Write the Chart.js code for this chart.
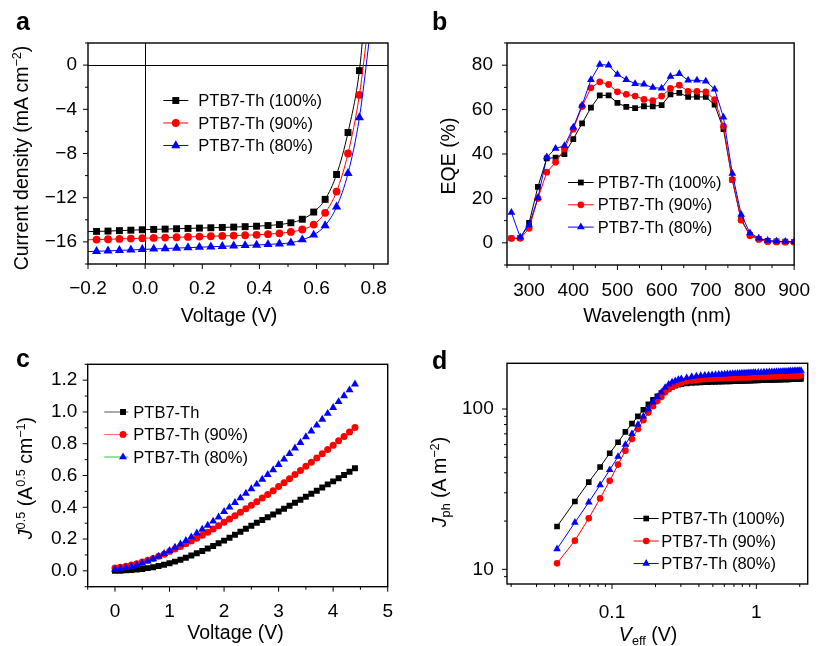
<!DOCTYPE html>
<html><head><meta charset="utf-8">
<script src="https://cdn.jsdelivr.net/npm/chart.js@4.4.1/dist/chart.umd.min.js"></script>
<style>
html,body{margin:0;padding:0;background:#fff;}
#wrap{position:relative;width:824px;height:646px;overflow:hidden;font-family:"Liberation Sans",Arial,Helvetica,sans-serif;color:#000;background:#fff;}
canvas{position:absolute;}
.lbl{position:absolute;font-weight:bold;font-size:25px;line-height:25px;z-index:2;}
.t{position:absolute;font-size:19.5px;white-space:nowrap;line-height:1;transform:translate(-50%,-50%);z-index:2;}
.r{transform:translate(-50%,-50%) rotate(-90deg);}
sup{font-size:0.65em;vertical-align:0.55em;line-height:0;}
sub{font-size:0.65em;vertical-align:-0.3em;line-height:0;}
</style></head>
<body><div id="wrap">
<canvas id="ca" width="412" height="323" style="left:0;top:0"></canvas>
<canvas id="cb" width="412" height="323" style="left:412px;top:0"></canvas>
<canvas id="cc" width="412" height="323" style="left:0;top:323px"></canvas>
<canvas id="cd" width="412" height="323" style="left:412px;top:323px"></canvas>
<div class="lbl" style="left:16px;top:9px">a</div>
<div class="lbl" style="left:432px;top:9px">b</div>
<div class="lbl" style="left:16px;top:346px">c</div>
<div class="lbl" style="left:432px;top:348px">d</div>
<div class="t" style="left:229px;top:315.5px">Voltage (V)</div>
<div class="t r" style="left:22px;top:158px">Current density (mA cm<sup>−2</sup>)</div>
<div class="t" style="left:657px;top:316px">Wavelength (nm)</div>
<div class="t r" style="left:449px;top:156px">EQE (%)</div>
<div class="t" style="left:235.5px;top:633px">Voltage (V)</div>
<div class="t r" style="left:26px;top:478px"><i>J</i><sup>0.5</sup> (A<sup>0.5</sup> cm<sup>−1</sup>)</div>
<div class="t" style="left:648px;top:635px"><i>V</i><sub>eff</sub> (V)</div>
<div class="t r" style="left:440px;top:482px"><i>J</i><sub>ph</sub> (A m<sup>−2</sup>)</div>
</div>
<script>
const FONT = '"Liberation Sans", Arial, Helvetica, sans-serif';
const BLK = '#000000', RED = '#ff0000', BLU = '#0000ff';

const seriesNames = ['PTB7-Th (100%)', 'PTB7-Th (90%)', 'PTB7-Th (80%)'];
const sclcNames = ['PTB7-Th', 'PTB7-Th (90%)', 'PTB7-Th (80%)'];

// ---- a: J-V ----
const jvV = [-0.17,-0.13,-0.09,-0.05,-0.01,0.03,0.07,0.11,0.15,0.19,0.23,0.27,0.31,0.35,0.39,0.43,0.47,0.51,0.55,0.59,0.63,0.67,0.71,0.75];
const jv100 = [-15.05,-15.02,-14.98,-14.94,-14.9,-14.87,-14.84,-14.81,-14.78,-14.75,-14.72,-14.69,-14.66,-14.62,-14.58,-14.52,-14.43,-14.27,-13.95,-13.3,-12.15,-9.9,-6.1,-0.5];
const jv90 = [-15.79,-15.76,-15.73,-15.7,-15.67,-15.64,-15.61,-15.58,-15.55,-15.52,-15.49,-15.46,-15.43,-15.4,-15.36,-15.3,-15.22,-15.1,-14.88,-14.43,-13.37,-11.45,-8.0,-2.7];
const jv80 = [-16.85,-16.81,-16.77,-16.73,-16.68,-16.64,-16.6,-16.56,-16.52,-16.48,-16.44,-16.4,-16.36,-16.32,-16.28,-16.23,-16.17,-16.08,-15.8,-15.37,-14.52,-12.83,-9.8,-4.75];
const jvHeadV = -0.2;
const jvHead = [-15.07, -15.81, -16.88];
const jvTailV = [0.765, 0.78, 0.79];
const jvTail = [3.5, 3.5, 3.5];
const jvXTicks = [-0.2, 0, 0.2, 0.4, 0.6, 0.8];
const jvXMinor = [-0.1, 0.1, 0.3, 0.5, 0.7];
const jvYTicks = [-16, -12, -8, -4, 0];
const jvYMinor = [-18, -14, -10, -6, -2, 2];

// ---- b: EQE ----
const wl = [260,280,300,320,340,360,380,400,420,440,460,480,500,520,540,560,580,600,620,640,660,680,700,720,740,760,780,800,820,840,860,880,900];
const eqe100 = [2,2.2,9,25.2,38,38.4,40,46.7,53.8,60.9,66.4,66.4,63,61.2,60.7,61.5,61.5,62,66.9,67.5,65.7,65.7,65.7,62.2,51.2,28.3,10.5,3.5,1.8,0.9,0.6,0.5,0.4];
const eqe90 = [2,2,6.5,20,31.8,36.3,42.2,51.2,61.4,69.8,72.5,71.3,68,66.9,66.1,64.6,64,66.1,69.5,71,68.2,68.2,68,64.5,52.5,28.5,10.2,3.2,1.5,0.5,0.4,0.3,0.3];
const eqe80 = [13.6,2.5,8,20.3,38.6,42.5,43.7,52,62,73.4,80.3,80,75.8,73.5,71.7,71.4,69.9,69.6,74.9,76.1,73.2,73.2,72.8,69.2,56.5,31.2,12.8,4.4,2.1,1,0.7,0.6,0.5];
const eqeXTicks = [300,400,500,600,700,800,900];
const eqeXMinor = [250,350,450,550,650,750,850];
const eqeYTicks = [0,20,40,60,80];
const eqeYMinor = [-10,10,30,50,70,90];

// ---- c: SCLC ----
const sclcV = [0,0.1,0.2,0.3,0.4,0.5,0.6,0.7,0.8,0.9,1.0,1.1,1.2,1.3,1.4,1.5,1.6,1.7,1.8,1.9,2.0,2.1,2.2,2.3,2.4,2.5,2.6,2.7,2.8,2.9,3.0,3.1,3.2,3.3,3.4,3.5,3.6,3.7,3.8,3.9,4.0,4.1,4.2,4.3,4.4];
const sclc100 = [0,0.001,0.003,0.005,0.008,0.012,0.017,0.023,0.03,0.038,0.048,0.058,0.07,0.082,0.096,0.11,0.125,0.14,0.156,0.173,0.19,0.208,0.227,0.246,0.265,0.284,0.302,0.32,0.337,0.355,0.373,0.391,0.409,0.428,0.447,0.466,0.485,0.504,0.524,0.544,0.563,0.583,0.603,0.624,0.646];
const sclc90 = [0.018,0.023,0.029,0.036,0.045,0.055,0.066,0.078,0.091,0.105,0.122,0.137,0.153,0.17,0.187,0.205,0.224,0.243,0.263,0.284,0.305,0.326,0.347,0.369,0.391,0.413,0.435,0.458,0.481,0.504,0.53,0.555,0.58,0.606,0.632,0.658,0.684,0.71,0.737,0.764,0.791,0.818,0.846,0.874,0.902];
const sclc80 = [0.008,0.013,0.019,0.027,0.036,0.047,0.06,0.074,0.09,0.108,0.127,0.147,0.168,0.19,0.213,0.237,0.261,0.286,0.312,0.338,0.372,0.4,0.429,0.458,0.487,0.516,0.545,0.575,0.605,0.635,0.668,0.702,0.737,0.772,0.807,0.843,0.879,0.916,0.953,0.99,1.027,1.064,1.101,1.138,1.175];
const sclcXTicks = [0,1,2,3,4,5];
const sclcXMinor = [-0.5,0.5,1.5,2.5,3.5,4.5];
const sclcYTicks = [0,0.2,0.4,0.6,0.8,1.0,1.2];
const sclcYMinor = [-0.1,0.1,0.3,0.5,0.7,0.9,1.1,1.3];

// ---- d: Jph vs Veff ----
const veff = [0.0416,0.0553,0.069,0.0827,0.0964,0.1101,0.1238,0.1375,0.1512,0.1649,0.1786,0.1923,0.206,0.2197,0.2334,0.2471,0.2608,0.2745,0.2882,0.3019,
0.3293,0.3567,0.3841,0.4115,0.4389,0.4663,0.4937,0.5211,0.5485,0.5759,0.6033,0.6307,0.6581,0.6855,0.7129,0.7403,0.7677,0.7951,0.8225,0.8499,0.8773,0.9047,0.9321,0.9595,0.9869,
1.03,1.08,1.13,1.18,1.23,1.28,1.33,1.38,1.43,1.48,1.53,1.58,1.63,1.68,1.73,1.78,1.83,1.88,1.93,1.98,2.04];
const jph100 = [18.5,26.5,35,43.5,53,62,72,81,90,99,107,114,120,125.5,130.5,134.5,137.5,140,141.8,143,
144.5,145.3,146,146.5,146.9,147.2,147.5,147.8,148,148.2,148.4,148.6,148.8,149,149.2,149.4,149.5,149.7,149.9,150,150.2,150.3,150.5,150.6,150.8,
151,151.2,151.4,151.6,151.8,152,152.1,152.3,152.4,152.6,152.7,152.9,153,153.2,153.3,153.5,153.6,153.8,153.9,154.1,154.3];
const jph90 = [10.9,15.1,20.8,27.7,35.7,45,55,65,75,85,95,104,112,119,127,133,137.5,141,143.5,145.5,
148.3,150.3,151.8,152.8,153.5,154,154.4,154.8,155.1,155.4,155.7,156,156.2,156.4,156.6,156.8,157,157.2,157.4,157.5,157.7,157.8,158,158.1,158.3,
158.5,158.7,158.9,159.1,159.3,159.5,159.7,159.8,160,160.2,160.3,160.5,160.6,160.8,160.9,161.1,161.2,161.4,161.5,161.7,161.9];
const jph80 = [13.4,19.6,26.2,33.6,41.7,50.5,60,70,80,90,100,110,119,127,136,142.5,147,150,152.5,154.3,
156.5,159,160.3,161.2,162,162.6,163.2,163.7,164.1,164.5,164.9,165.3,165.6,165.9,166.2,166.5,166.8,167.1,167.4,167.6,167.8,168,168.2,168.4,168.6,
168.9,169.2,169.5,169.8,170.1,170.4,170.6,170.8,171,171.3,171.5,171.7,171.9,172.1,172.3,172.5,172.7,172.9,173.1,173.3,173.6];
const dXTicks = [0.1, 1];
const dXMinor = [0.02,0.03,0.04,0.05,0.06,0.07,0.08,0.09,0.2,0.3,0.4,0.5,0.6,0.7,0.8,0.9,2];
const dYTicks = [10, 100];
const dYMinor = [9,20,30,40,50,60,70,80,90];

// ---------- helpers ----------
Chart.defaults.font.family = FONT;
const minus = s => s.replace('-', '\u2212');
const fmt = d => v => minus(Number(v).toFixed(d));

function axis(type, min, max, tickVals, format, pad, fit, isX) {
  return {
    type, min, max,
    grid: { display: false, drawTicks: false },
    border: { display: false },
    ticks: { padding: pad, font: { family: FONT, size: 19 }, color: '#000', maxRotation: 0, autoSkip: false,
             callback: (v) => format(v) },
    afterBuildTicks: s => { s.ticks = tickVals.map(v => ({ value: v })); },
    afterFit: s => { if (isX) s.height = fit; else s.width = fit; }
  };
}

const framePlugin = {
  id: 'frame',
  beforeDatasetsDraw(chart, args, o) {
    if (!o.zeroLines) return;
    const { ctx, chartArea: a, scales: { x, y } } = chart;
    ctx.save(); ctx.strokeStyle = '#000'; ctx.lineWidth = 1;
    const py = Math.round(y.getPixelForValue(0)) + 0.5, px = Math.round(x.getPixelForValue(0)) + 0.5;
    ctx.beginPath(); ctx.moveTo(a.left, py); ctx.lineTo(a.right, py);
    ctx.moveTo(px, a.top); ctx.lineTo(px, a.bottom); ctx.stroke(); ctx.restore();
  },
  afterDatasetsDraw(chart, args, o) {
    const { ctx, chartArea: a, scales: { x, y } } = chart;
    ctx.save(); ctx.strokeStyle = '#000'; ctx.lineWidth = 1;
    ctx.beginPath();
    const tx = (vals, len) => (vals || []).forEach(v => { const p = x.getPixelForValue(v); ctx.moveTo(p, a.bottom); ctx.lineTo(p, a.bottom + len); });
    const ty = (vals, len) => (vals || []).forEach(v => { const p = y.getPixelForValue(v); ctx.moveTo(a.left, p); ctx.lineTo(a.left - len, p); });
    tx(o.xMajor, 5); tx(o.xMinor, 3); ty(o.yMajor, 5); ty(o.yMinor, 3);
    ctx.stroke();
    ctx.lineWidth = 1.4;
    ctx.strokeRect(a.left, a.top, a.right - a.left, a.bottom - a.top);
    ctx.restore();
  }
};

const legendPlugin = {
  id: 'inlegend',
  afterDraw(chart, args, o) {
    if (!o.items) return;
    const ctx = chart.ctx;
    ctx.save();
    o.items.forEach((it, i) => {
      const yy = o.y + i * o.dy;
      const ds = chart.data.datasets[it.ds];
      ctx.strokeStyle = it.line; ctx.lineWidth = 1;
      ctx.beginPath(); ctx.moveTo(o.x0, yy); ctx.lineTo(o.x1, yy); ctx.stroke();
      const mx = o.x0 + (o.x1 - o.x0) * (o.mf || 0.5);
      ctx.fillStyle = ds.pointBackgroundColor; ctx.strokeStyle = ds.pointBackgroundColor;
      Chart.helpers.drawPoint(ctx, { pointStyle: ds.pointStyle, radius: ds.pointRadiusBase, borderWidth: 0, rotation: 0 }, mx, yy);
      ctx.fillStyle = '#000';
      ctx.font = '16.5px ' + FONT; ctx.textBaseline = 'middle'; ctx.textAlign = 'left';
      ctx.fillText(ds.label, o.tx, yy + 1);
    });
    ctx.restore();
  }
};

function mkds(label, data, color, style, r, extra) {
  return Object.assign({
    label, data, borderColor: color, backgroundColor: color,
    pointBackgroundColor: color, pointBorderColor: color, pointBorderWidth: 0,
    pointStyle: style, pointRadius: r, pointHoverRadius: r, pointRadiusBase: r,
    borderWidth: 1, showLine: true, tension: 0
  }, extra || {});
}

function baseOpts(pad, xAxis, yAxis, frame, legend) {
  return {
    responsive: false, animation: false, events: [],
    layout: { padding: pad },
    scales: { x: xAxis, y: yAxis },
    plugins: { legend: { display: false }, tooltip: { enabled: false }, frame, inlegend: legend }
  };
}

const colors = [BLK, RED, BLU];
const styles = ['rect', 'circle', 'triangle'];

// ---------- a ----------
(function () {
  const sets = [jv100, jv90, jv80];
  const radii = [4.9, 3.9, 5.3];
  const datasets = sets.map((ys, i) => {
    const pts = [{ x: jvHeadV, y: jvHead[i] }].concat(jvV.map((v, k) => ({ x: v, y: ys[k] })), [{ x: jvTailV[i], y: jvTail[i] }]);
    const n = pts.length;
    return mkds(seriesNames[i], pts, colors[i], styles[i], radii[i], {
      pointRadius: c => (c.dataIndex === 0 || c.dataIndex === n - 1) ? 0 : radii[i],
      cubicInterpolationMode: 'monotone', clip: 0, order: 2 - i
    });
  });
  new Chart(document.getElementById('ca'), {
    type: 'scatter',
    data: { datasets },
    options: baseOpts({ left: 0, top: 43, right: 24, bottom: 0 },
      axis('linear', -0.2, 0.85, jvXTicks, fmt(1), 13, 59, true),
      axis('linear', -18, 2, jvYTicks, fmt(0), 11, 88, false),
      { xMajor: jvXTicks, xMinor: jvXMinor, yMajor: jvYTicks, yMinor: jvYMinor, zeroLines: true },
      { x0: 163.3, x1: 188.3, tx: 198.3, y: 100.5, dy: 22.5, items: [{ ds: 0, line: BLK }, { ds: 1, line: RED }, { ds: 2, line: BLU }] }),
    plugins: [framePlugin, legendPlugin]
  });
})();

// ---------- b ----------
(function () {
  const sets = [eqe100, eqe90, eqe80];
  const radii = [4.1, 3.4, 4.5];
  const datasets = sets.map((ys, i) => mkds(seriesNames[i], wl.map((v, k) => ({ x: v, y: ys[k] })), colors[i], styles[i], radii[i], { order: 2 - i }));
  new Chart(document.getElementById('cb'), {
    type: 'scatter',
    data: { datasets },
    options: baseOpts({ left: 0, top: 43, right: 16, bottom: 0 },
      axis('linear', 250, 900, eqeXTicks, fmt(0), 14, 58, true),
      axis('linear', -10, 90, eqeYTicks, fmt(0), 14, 95, false),
      { xMajor: eqeXTicks, xMinor: eqeXMinor, yMajor: eqeYTicks, yMinor: eqeYMinor },
      { x0: 156, x1: 181.7, tx: 185.7, y: 182.5, dy: 22.3, items: [{ ds: 0, line: BLK }, { ds: 1, line: RED }, { ds: 2, line: BLU }] }),
    plugins: [framePlugin, legendPlugin]
  });
})();

// ---------- c ----------
(function () {
  const sets = [sclc100, sclc90, sclc80];
  const radii = [4.2, 3.5, 4.6];
  const datasets = sets.map((ys, i) => mkds(sclcNames[i], sclcV.map((v, k) => ({ x: v, y: ys[k] })), colors[i], styles[i], radii[i], { showLine: false, order: 2 - i }));
  new Chart(document.getElementById('cc'), {
    type: 'scatter',
    data: { datasets },
    options: baseOpts({ left: 0, top: 41.3, right: 24.3, bottom: 0 },
      axis('linear', -0.5, 5, sclcXTicks, fmt(0), 14, 59.3, true),
      axis('linear', -0.1, 1.3, sclcYTicks, fmt(1), 10.4, 87.7, false),
      { xMajor: sclcXTicks, xMinor: sclcXMinor, yMajor: sclcYTicks, yMinor: sclcYMinor },
      { x0: 104.3, x1: 128.3, tx: 133.3, y: 89, dy: 22.5, mf: 0.78, items: [{ ds: 0, line: '#555555' }, { ds: 1, line: '#ff6666' }, { ds: 2, line: '#22cc22' }] }),
    plugins: [framePlugin, legendPlugin]
  });
})();

// ---------- d ----------
(function () {
  const sets = [jph100, jph90, jph80];
  const radii = [4.0, 3.3, 4.4];
  const datasets = sets.map((ys, i) => mkds(seriesNames[i], veff.map((v, k) => ({ x: v, y: ys[k] })), colors[i], styles[i], radii[i], { order: 2 - i }));
  new Chart(document.getElementById('cd'), {
    type: 'scatter',
    data: { datasets },
    options: baseOpts({ left: 0, top: 40.3, right: 16.3, bottom: 0 },
      axis('logarithmic', 0.01872, 2.27, dXTicks, v => String(v), 17, 62, true),
      axis('logarithmic', 8.1, 192.8, dYTicks, v => String(v), 13.3, 95, false),
      { xMajor: dXTicks, xMinor: dXMinor, yMajor: dYTicks, yMinor: dYMinor },
      { x0: 221.7, x1: 246.7, tx: 249.3, y: 195.5, dy: 22.5, items: [{ ds: 0, line: BLK }, { ds: 1, line: RED }, { ds: 2, line: BLU }] }),
    plugins: [framePlugin, legendPlugin]
  });
})();
</script>
</body></html>
